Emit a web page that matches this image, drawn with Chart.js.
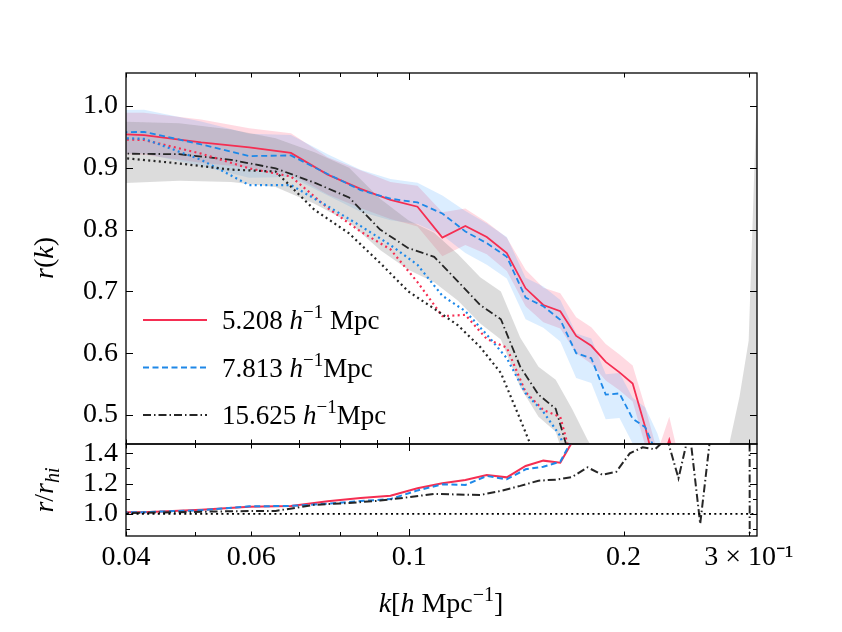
<!DOCTYPE html>
<html>
<head>
<meta charset="utf-8">
<script src="https://cdn.jsdelivr.net/npm/chart.js@4.4.1/dist/chart.umd.min.js"></script>
<style>
  body { margin: 0; background: #fff; }
  canvas { position: absolute; left: 0; top: 0; }
</style>
</head>
<body>
<canvas id="rk" width="842" height="632"></canvas>
<canvas id="ratio" width="842" height="632"></canvas>
<script>
// k bins of the 5.208 and 7.813 runs
const kHi = [0.0338, 0.0424, 0.0510, 0.0596, 0.0682, 0.0768, 0.0854, 0.0941, 0.1027, 0.1113, 0.1199, 0.1285, 0.1371,
  0.1457, 0.1543, 0.1630, 0.1716, 0.1802, 0.1888, 0.1974, 0.2060, 0.2146, 0.2232, 0.2319, 0.2405, 0.2491]
// k bins of the 15.625 run
const kLo = [0.0388, 0.0475, 0.0562, 0.0649, 0.0736, 0.0823, 0.0910, 0.0997, 0.1084, 0.1171, 0.1258, 0.1345, 0.1432,
  0.1519, 0.1606, 0.1693, 0.1780, 0.1867, 0.1954, 0.2041, 0.2128, 0.2215, 0.2302, 0.2389, 0.2476, 0.2563, 0.2650,
  0.2737, 0.2824, 0.2911, 0.2998, 0.3085, 0.3172]

const rRed = [0.957, 0.953, 0.941, 0.933, 0.924, 0.889, 0.866, 0.848, 0.837, 0.787, 0.806, 0.788, 0.762, 0.705, 0.678,
  0.668, 0.628, 0.612, 0.586, 0.569, 0.551, 0.480, 0.400, 0.460, 0.400, 0.350]
const rRedHi = [0.990, 0.989, 0.978, 0.964, 0.956, 0.917, 0.896, 0.877, 0.871, 0.828, 0.834, 0.812, 0.787, 0.735, 0.706,
  0.697, 0.658, 0.642, 0.615, 0.598, 0.580, 0.512, 0.440, 0.497, 0.420, 0.370]
const rRedLo = [0.925, 0.921, 0.908, 0.900, 0.890, 0.857, 0.835, 0.817, 0.805, 0.757, 0.775, 0.760, 0.733, 0.676, 0.650,
  0.640, 0.600, 0.583, 0.556, 0.540, 0.522, 0.450, 0.370, 0.425, 0.370, 0.320]

const rBlue = [0.957, 0.958, 0.938, 0.919, 0.920, 0.890, 0.864, 0.850, 0.844, 0.826, 0.797, 0.778, 0.756, 0.690, 0.676,
  0.654, 0.600, 0.592, 0.533, 0.535, 0.494, 0.480, 0.435, 0.380, 0.330]
const rBlueHi = [0.992, 0.994, 0.975, 0.955, 0.953, 0.922, 0.897, 0.882, 0.876, 0.855, 0.830, 0.810, 0.788, 0.722, 0.708,
  0.686, 0.632, 0.624, 0.566, 0.568, 0.528, 0.512, 0.470, 0.410, 0.360]
const rBlueLo = [0.922, 0.923, 0.903, 0.884, 0.885, 0.855, 0.829, 0.815, 0.809, 0.791, 0.762, 0.743, 0.721, 0.655, 0.641,
  0.619, 0.560, 0.552, 0.493, 0.495, 0.454, 0.440, 0.395, 0.340, 0.290]

const rBlack = [0.923, 0.922, 0.913, 0.899, 0.876, 0.852, 0.800, 0.770, 0.756, 0.716, 0.678, 0.655, 0.578, 0.533, 0.510,
  0.420, 0.380]
const rBlackHi = [0.975, 0.972, 0.962, 0.948, 0.925, 0.900, 0.850, 0.815, 0.795, 0.760, 0.723, 0.700, 0.625, 0.578, 0.557,
  0.510, 0.460, 0.420, 0.400, 0.380, 0.370, 0.360, 0.340, 0.330, 0.320, 0.300, 0.300, 0.360, 0.460, 0.530, 0.620, 1.050, 1.300]
const rBlackLo = [0.875, 0.879, 0.877, 0.869, 0.842, 0.812, 0.767, 0.735, 0.715, 0.685, 0.648, 0.622, 0.545, 0.497, 0.473,
  0.390, 0.330, 0.300, 0.280, 0.260, 0.250, 0.240, 0.220, 0.210, 0.200, 0.190, 0.180, 0.170, 0.160, 0.150, 0.250, 0.350, 0.450]

// high resolution reference (dotted)
const rRedRef = [0.948, 0.945, 0.923, 0.899, 0.886, 0.835, 0.797, 0.768, 0.715, 0.660, 0.662, 0.623, 0.609, 0.537, 0.508,
  0.497, 0.400, 0.350]
const rBlueRef = [0.950, 0.947, 0.913, 0.872, 0.872, 0.838, 0.806, 0.775, 0.743, 0.693, 0.668, 0.630, 0.592, 0.535, 0.505,
  0.466, 0.380, 0.330]
const rBlackRef = [0.917, 0.907, 0.897, 0.894, 0.832, 0.794, 0.746, 0.700, 0.672, 0.645, 0.610, 0.568, 0.493, 0.420, 0.350]

// r / r_hi
const ratioRed = [1.010, 1.012, 1.028, 1.048, 1.053, 1.083, 1.105, 1.120, 1.169, 1.202, 1.224, 1.257, 1.241, 1.316, 1.351,
  1.337, 1.520, 1.700, 1.900]
const ratioBlue = [1.008, 1.012, 1.025, 1.050, 1.053, 1.068, 1.085, 1.098, 1.155, 1.195, 1.191, 1.250, 1.228, 1.294, 1.311,
  1.344, 1.540, 1.700, 1.900]
const ratioBlack = [1.005, 1.012, 1.018, 1.020, 1.060, 1.072, 1.088, 1.110, 1.132, 1.128, 1.125, 1.152, 1.185, 1.219, 1.226,
  1.243, 1.307, 1.258, 1.278, 1.399, 1.439, 1.426, 1.500, 1.235, 1.550, 0.935, 1.520, 2.500, 3.000, 4.000, 9.000, -60, -60]
const refK = [0.04, 0.308]
const refV = [1, 1]

const legendNames = ['5.208', '7.813', '15.625']
const legendUnits = [' Mpc', 'Mpc', 'Mpc']

const xTickVals = [0.04, 0.06, 0.1, 0.2, 0.3]
const xTickText = ['0.04', '0.06', '0.1', '0.2', '3 × 10⁻¹']
const xMinorVals = [0.05, 0.07, 0.08, 0.09]
const topYTicks = [0.5, 0.6, 0.7, 0.8, 0.9, 1.0]
const botYTicks = [1.0, 1.2, 1.4]
const botYMinor = [0.9, 1.1, 1.3]

const RED = '#f52e52'
const BLUE = '#1e88e8'
const BLACK = '#262626'
const FAM = "'Liberation Serif', serif"
const DASH = [6, 3.5]
const DASHDOT = [8, 3, 1.5, 3]
const DOT = [2, 3.3]

function pts(k, v) {
  return v.map((y, i) => ({ x: k[i], y: y }))
}

function line(k, v, color, dash, width) {
  return {
    data: pts(k, v), borderColor: color, borderDash: dash, borderWidth: width || 1.8,
    pointRadius: 0, fill: false, tension: 0, order: 1
  }
}

function bandPair(k, lo, hi, color) {
  return [
    { data: pts(k, lo), borderWidth: 0, pointRadius: 0, fill: false, order: 5 },
    { data: pts(k, hi), borderWidth: 0, pointRadius: 0, fill: '-1', backgroundColor: color, order: 5 }
  ]
}

function richText(ctx, parts, x, y, size, center) {
  const fontOf = p => {
    const small = p[1].includes('sup') || p[1].includes('sub')
    return (p[1].startsWith('i') ? 'italic ' : '') + Math.round(small ? size * 0.7 : size) + 'px ' + FAM
  }
  let w = 0
  parts.forEach(p => { ctx.font = fontOf(p); w += ctx.measureText(p[0]).width })
  let cx = center ? x - w / 2 : x
  ctx.textAlign = 'left'
  ctx.textBaseline = 'alphabetic'
  parts.forEach(p => {
    ctx.font = fontOf(p)
    const dy = p[1].includes('sup') ? -size * 0.4 : p[1].includes('sub') ? size * 0.22 : 0
    ctx.fillText(p[0], cx, y + dy)
    cx += ctx.measureText(p[0]).width
  })
}

// frame with inward ticks on all four sides
function framePlugin(yMajor, yMinor) {
  return {
    id: 'frame',
    afterDraw(chart) {
      const { ctx, chartArea: a } = chart
      const xs = chart.scales.x, ys = chart.scales.y
      ctx.save()
      ctx.strokeStyle = '#000'
      ctx.lineWidth = 1
      ctx.beginPath()
      const xt = (v, len) => {
        const p = Math.round(xs.getPixelForValue(v)) + 0.5
        ctx.moveTo(p, a.top); ctx.lineTo(p, a.top + len)
        ctx.moveTo(p, a.bottom); ctx.lineTo(p, a.bottom - len)
      }
      const yt = (v, len) => {
        const p = Math.round(ys.getPixelForValue(v)) + 0.5
        ctx.moveTo(a.left, p); ctx.lineTo(a.left + len, p)
        ctx.moveTo(a.right, p); ctx.lineTo(a.right - len, p)
      }
      xTickVals.forEach(v => xt(v, v === 0.1 ? 7 : 4.5))
      xMinorVals.forEach(v => xt(v, 4))
      yMajor.forEach(v => yt(v, 7))
      yMinor.forEach(v => yt(v, 4))
      ctx.stroke()
      ctx.lineWidth = 1.3
      ctx.strokeRect(a.left, a.top, a.right - a.left, a.bottom - a.top)
      ctx.restore()
    }
  }
}

const legendPlugin = {
  id: 'legendBox',
  afterDraw(chart) {
    const ctx = chart.ctx
    const styles = [[RED, []], [BLUE, DASH], [BLACK, DASHDOT]]
    ctx.save()
    legendNames.forEach((name, i) => {
      const y = 320 + i * 47.5
      ctx.strokeStyle = styles[i][0]
      ctx.setLineDash(styles[i][1])
      ctx.lineWidth = 1.8
      ctx.beginPath(); ctx.moveTo(143, y); ctx.lineTo(207, y); ctx.stroke()
      ctx.setLineDash([])
      ctx.fillStyle = '#000'
      richText(ctx, [[name + ' ', ''], ['h', 'i'], ['−1', 'sup'], [legendUnits[i], '']], 222, y + 9, 27, false)
    })
    // y title
    ctx.translate(53, 258)
    ctx.rotate(-Math.PI / 2)
    richText(ctx, [['r', 'i'], ['(', ''], ['k', 'i'], [')', '']], 0, 0, 28, true)
    ctx.restore()
  }
}

const ratioTitles = {
  id: 'ratioTitles',
  afterDraw(chart) {
    const ctx = chart.ctx
    ctx.save()
    ctx.fillStyle = '#000'
    richText(ctx, [['k', 'i'], ['[', ''], ['h', 'i'], [' Mpc', ''], ['−1', 'sup'], [']', '']], 441, 612, 28, true)
    ctx.translate(53, 490)
    ctx.rotate(-Math.PI / 2)
    richText(ctx, [['r', 'i'], ['/', ''], ['r', 'i'], ['hi', 'isub']], 0, 0, 28, true)
    ctx.restore()
  }
}

const xAxisBase = {
  type: 'logarithmic', min: 0.04, max: 0.308,
  grid: { display: false }, border: { display: false }
}

new Chart(document.getElementById('rk'), {
  type: 'line',
  data: {
    datasets: [
      ...bandPair(kLo, rBlackLo, rBlackHi, 'rgba(140,140,140,0.3)'),
      ...bandPair(kHi, rBlueLo, rBlueHi, 'rgba(30,144,255,0.16)'),
      ...bandPair(kHi, rRedLo, rRedHi, 'rgba(255,60,100,0.19)'),
      line(kLo, rBlackRef, BLACK, DOT, 2.2),
      line(kHi, rBlueRef, BLUE, DOT, 2.2),
      line(kHi, rRedRef, RED, DOT, 2.2),
      line(kLo, rBlack, BLACK, DASHDOT),
      line(kHi, rBlue, BLUE, DASH),
      line(kHi, rRed, RED, [])
    ]
  },
  options: {
    responsive: false, animation: false, devicePixelRatio: 1,
    layout: { padding: { top: 73, right: 85, bottom: 188, left: 0 } },
    plugins: { legend: { display: false }, tooltip: { enabled: false } },
    scales: {
      x: Object.assign({}, xAxisBase, { display: false }),
      y: {
        min: 0.4531, max: 1.0534,
        grid: { display: false, drawTicks: false }, border: { display: false },
        afterFit: s => { s.width = 126 },
        afterBuildTicks: s => { s.ticks = topYTicks.map(v => ({ value: v })) },
        ticks: { padding: 8, color: '#000', font: { family: FAM, size: 28 }, callback: v => v.toFixed(1) }
      }
    }
  },
  plugins: [framePlugin(topYTicks, []), legendPlugin]
})

new Chart(document.getElementById('ratio'), {
  type: 'line',
  data: {
    datasets: [
      line(refK, refV, '#000', DOT, 1.8),
      line(kLo, ratioBlack, BLACK, DASHDOT, 2),
      line(kHi, ratioBlue, BLUE, DASH, 2),
      line(kHi, ratioRed, RED, [], 2)
    ]
  },
  options: {
    responsive: false, animation: false, devicePixelRatio: 1,
    layout: { padding: { top: 444, right: 85, bottom: 0, left: 0 } },
    plugins: { legend: { display: false }, tooltip: { enabled: false } },
    scales: {
      x: Object.assign({}, xAxisBase, {
        grid: { display: false, drawTicks: false },
        afterFit: s => { s.height = 96 },
        afterBuildTicks: s => { s.ticks = xTickVals.map(v => ({ value: v })) },
        ticks: {
          autoSkip: false, maxRotation: 0, padding: 5, color: '#000',
          font: { family: FAM, size: 28 }, callback: (v, i) => xTickText[i]
        }
      }),
      y: {
        min: 0.855, max: 1.4605,
        grid: { display: false, drawTicks: false }, border: { display: false },
        afterFit: s => { s.width = 126 },
        afterBuildTicks: s => { s.ticks = botYTicks.map(v => ({ value: v })) },
        ticks: { padding: 8, color: '#000', font: { family: FAM, size: 28 }, callback: v => v.toFixed(1) }
      }
    }
  },
  plugins: [framePlugin(botYTicks, botYMinor), ratioTitles]
})
</script>
</body>
</html>
